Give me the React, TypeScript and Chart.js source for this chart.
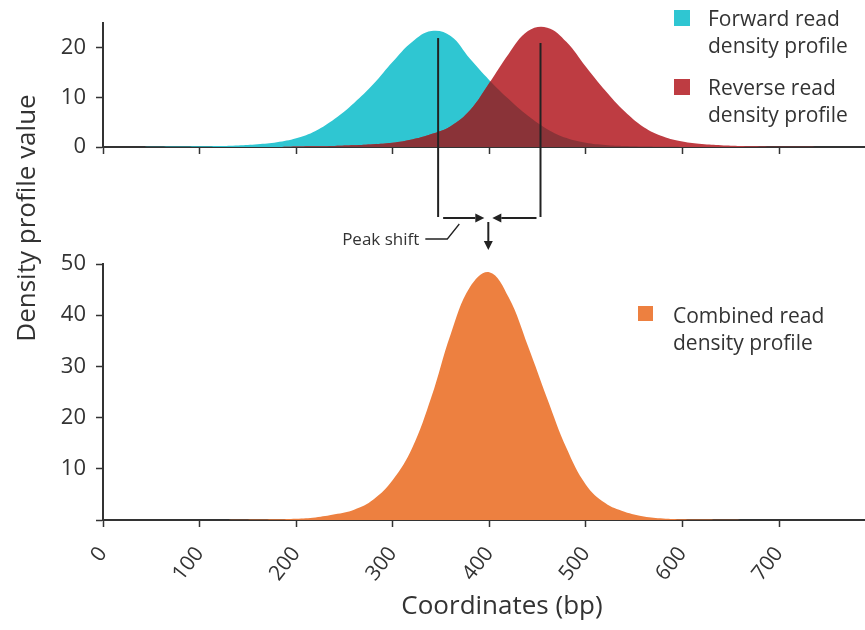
import React, { useEffect, useRef } from 'react';
import { Chart, registerables } from 'chart.js';

Chart.register(...registerables);

const W = 865;
const H = 630;

// ---- axes ----
const xTicks = [0, 100, 200, 300, 400, 500, 600, 700];
const xMax = 789;
const topYTicks = [0, 10, 20];
const topYMax = 25;
const bottomYTicks = [0, 10, 20, 30, 40, 50];
const bottomYMax = 50;

// ---- sampled coordinates (bp) ----
const coords = [0, 20, 40, 60, 80, 100, 120, 140, 160, 180, 200, 220, 240, 260, 280, 300, 320, 340, 360, 380, 400, 420, 440, 460, 480, 500, 520, 540, 560, 580, 600, 620, 640, 660, 680, 700, 720, 740, 760, 780];

// ---- density values read at each coordinate ----
const forwardY = [0, 0, 0.02, 0.05, 0.08, 0.13, 0.2, 0.32, 0.55, 0.95, 1.75, 3.25, 5.7, 8.9, 12.7, 17.2, 21.2, 23.4, 22.4, 17.8, 13.5, 9.7, 6.3, 3.6, 1.8, 0.85, 0.4, 0.2, 0.1, 0.05, 0.02, 0, 0, 0, 0, 0, 0, 0, 0, 0];
const reverseY = [0, 0, 0, 0, 0, 0, 0, 0, 0, 0, 0.1, 0.15, 0.22, 0.35, 0.55, 0.85, 1.5, 2.6, 4.2, 7.4, 12.9, 18.8, 23.4, 24.1, 21.2, 16.2, 11.4, 7.2, 4.0, 2.1, 1.1, 0.6, 0.35, 0.2, 0.12, 0.06, 0.03, 0, 0, 0];
const combinedY = [0, 0, 0, 0, 0, 0, 0, 0.05, 0.1, 0.15, 0.25, 0.5, 1.1, 2.0, 4.0, 7.8, 14.0, 24.0, 36.3, 45.5, 48.4, 43.5, 34.0, 23.7, 14.0, 6.9, 3.3, 1.6, 0.7, 0.3, 0.15, 0.08, 0.04, 0.02, 0, 0, 0, 0, 0, 0];

// peak markers (forward, reverse) and their top values
const peakX = [347, 453];
const peakTop = [22, 21];

const seriesNames = ['Forward read density profile', 'Reverse read density profile', 'Combined read density profile'];
const legendLines = [
  ['Forward read', 'density profile'],
  ['Reverse read', 'density profile'],
  ['Combined read', 'density profile'],
];
const yTitle = 'Density profile value';
const xTitle = 'Coordinates (bp)';
const peakLabel = 'Peak shift';

const COLORS = {
  forward: '#2FC6D2',
  reverse: '#BE3C42',
  overlap: '#8A3338',
  combined: '#ED8040',
  ink: '#333333',
  mark: '#222222',
};
const FONT = '"Open Sans", "DejaVu Sans", sans-serif';

const pts = (xs: number[], ys: number[]) => xs.map((x, i) => ({ x, y: ys[i] }));

const xScale = (showLabels: boolean, height: number) => ({
  type: 'linear' as const,
  min: 0,
  max: xMax,
  afterBuildTicks: (s: any) => {
    s.ticks = xTicks.map((v) => ({ value: v }));
  },
  afterFit: (s: any) => {
    s.height = height;
  },
  grid: { display: true, drawOnChartArea: false, drawTicks: true, tickLength: 7, tickWidth: 1.5, tickColor: COLORS.ink },
  border: { display: true, color: COLORS.ink, width: 2 },
  ticks: {
    display: showLabels,
    autoSkip: false,
    minRotation: 52,
    maxRotation: 52,
    padding: 15,
    color: COLORS.ink,
    font: { family: FONT, size: 21 },
  },
});

const yScale = (max: number, ticks: number[], hideZero: boolean) => ({
  type: 'linear' as const,
  min: 0,
  max,
  afterBuildTicks: (s: any) => {
    s.ticks = ticks.map((v) => ({ value: v }));
  },
  afterFit: (s: any) => {
    s.width = 103;
  },
  grid: { display: true, drawOnChartArea: false, drawTicks: true, tickLength: 7, tickWidth: 1.5, tickColor: COLORS.ink },
  border: { display: true, color: COLORS.ink, width: 2 },
  ticks: {
    padding: 10,
    color: COLORS.ink,
    font: { family: FONT, size: 22 },
    callback: (v: any) => (hideZero && v === 0 ? '' : String(v)),
  },
});

function drawLegend(ctx: CanvasRenderingContext2D, color: string, lines: string[], sx: number, sy: number, size: number, tx: number, base: number, fs: number) {
  ctx.save();
  ctx.fillStyle = color;
  ctx.fillRect(sx, sy, size, size);
  ctx.fillStyle = COLORS.ink;
  ctx.font = `${fs}px ${FONT}`;
  ctx.textAlign = 'left';
  ctx.textBaseline = 'alphabetic';
  lines.forEach((t, i) => ctx.fillText(t, tx, base + i * 27));
  ctx.restore();
}

function arrow(ctx: CanvasRenderingContext2D, x1: number, y1: number, x2: number, y2: number, head = 8) {
  const a = Math.atan2(y2 - y1, x2 - x1);
  const bx = x2 - head * Math.cos(a);
  const by = y2 - head * Math.sin(a);
  ctx.beginPath();
  ctx.moveTo(x1, y1);
  ctx.lineTo(bx, by);
  ctx.stroke();
  const w = head * 0.5;
  ctx.beginPath();
  ctx.moveTo(x2, y2);
  ctx.lineTo(bx + w * Math.sin(a), by - w * Math.cos(a));
  ctx.lineTo(bx - w * Math.sin(a), by + w * Math.cos(a));
  ctx.closePath();
  ctx.fill();
}

const overlapPlugin = {
  id: 'overlap',
  afterDatasetsDraw(chart: any) {
    const ctx: CanvasRenderingContext2D = chart.ctx;
    const area = chart.chartArea;
    const fwd = chart.getDatasetMeta(0).dataset;
    const rev = chart.getDatasetMeta(1).dataset;
    if (!fwd || !rev) return;
    fwd.updateControlPoints(area, 'x');
    rev.updateControlPoints(area, 'x');
    const y0 = chart.scales.y.getPixelForValue(0);
    const shape = (line: any) => {
      ctx.beginPath();
      line.path(ctx);
      const p = line.points;
      ctx.lineTo(p[p.length - 1].x, y0);
      ctx.lineTo(p[0].x, y0);
      ctx.closePath();
    };
    ctx.save();
    ctx.beginPath();
    ctx.rect(area.left, area.top, area.right - area.left, area.bottom - area.top);
    ctx.clip();
    shape(fwd);
    ctx.clip();
    shape(rev);
    ctx.fillStyle = COLORS.overlap;
    ctx.fill();
    ctx.restore();
  },
};

const topAnnotations = {
  id: 'topAnnotations',
  afterDraw(chart: any) {
    const ctx: CanvasRenderingContext2D = chart.ctx;
    const xs = chart.scales.x;
    const ys = chart.scales.y;
    const y0 = ys.getPixelForValue(0);
    const xF = xs.getPixelForValue(peakX[0]);
    const xR = xs.getPixelForValue(peakX[1]);
    const mid = xs.getPixelForValue((peakX[0] + peakX[1]) / 2);
    const yB = y0 + 71;

    ctx.save();
    ctx.strokeStyle = COLORS.mark;
    ctx.fillStyle = COLORS.mark;
    ctx.lineWidth = 2;
    [xF, xR].forEach((x, i) => {
      ctx.beginPath();
      ctx.moveTo(x, ys.getPixelForValue(peakTop[i]));
      ctx.lineTo(x, yB - 1);
      ctx.stroke();
    });
    arrow(ctx, xF + 5, yB, mid - 5, yB, 9);
    arrow(ctx, xR - 4, yB, mid + 3, yB, 9);
    arrow(ctx, mid - 1, yB + 4, mid - 1, yB + 32, 9);
    ctx.lineWidth = 1.3;
    ctx.beginPath();
    ctx.moveTo(mid - 64, yB + 21);
    ctx.lineTo(mid - 42, yB + 21);
    ctx.lineTo(mid - 30, yB + 6);
    ctx.stroke();
    ctx.fillStyle = COLORS.ink;
    ctx.font = `17px ${FONT}`;
    ctx.textAlign = 'right';
    ctx.textBaseline = 'middle';
    ctx.fillText(peakLabel, mid - 70, yB + 22);
    ctx.restore();

    drawLegend(ctx, COLORS.forward, legendLines[0], 674, 10, 16, 708, 26, 21);
    drawLegend(ctx, COLORS.reverse, legendLines[1], 674, 79, 16, 708, 95, 21);

    ctx.save();
    ctx.translate(28, 218);
    ctx.rotate(-Math.PI / 2);
    ctx.fillStyle = COLORS.ink;
    ctx.font = `26px ${FONT}`;
    ctx.textAlign = 'center';
    ctx.textBaseline = 'middle';
    ctx.fillText(yTitle, 0, 0);
    ctx.restore();
  },
};

const bottomAnnotations = {
  id: 'bottomAnnotations',
  afterDraw(chart: any) {
    const ctx: CanvasRenderingContext2D = chart.ctx;
    drawLegend(ctx, COLORS.combined, legendLines[2], 638, 306, 15, 673, 323, 21);
    ctx.save();
    ctx.fillStyle = COLORS.ink;
    ctx.font = `26px ${FONT}`;
    ctx.textAlign = 'center';
    ctx.textBaseline = 'middle';
    ctx.fillText(xTitle, 502, 607);
    ctx.restore();
  },
};

export default function App() {
  const topRef = useRef<HTMLCanvasElement>(null);
  const botRef = useRef<HTMLCanvasElement>(null);

  useEffect(() => {
    const common = {
      animation: false as const,
      responsive: false,
      maintainAspectRatio: false,
      events: [] as any[],
    };
    const ds = (label: string, data: any[], color: string, order: number) => ({
      label,
      data,
      backgroundColor: color,
      borderColor: color,
      borderWidth: 0,
      pointRadius: 0,
      fill: 'origin',
      tension: 0.4,
      order,
    });

    const top = new Chart(topRef.current!, {
      type: 'line',
      data: {
        datasets: [
          ds(seriesNames[0], pts(coords, forwardY), COLORS.forward, 2),
          ds(seriesNames[1], pts(coords, reverseY), COLORS.reverse, 1),
        ] as any,
      },
      options: {
        ...common,
        layout: { padding: { top: 20, left: 0, right: 0, bottom: 0 } },
        plugins: { legend: { display: false }, tooltip: { enabled: false }, title: { display: false } },
        scales: {
          x: xScale(false, H - 147) as any,
          y: yScale(topYMax, topYTicks, false) as any,
        },
      },
      plugins: [overlapPlugin, topAnnotations],
    });

    const bot = new Chart(botRef.current!, {
      type: 'line',
      data: {
        datasets: [ds(seriesNames[2], pts(coords, combinedY), COLORS.combined, 1)] as any,
      },
      options: {
        ...common,
        layout: { padding: { top: 264, left: 0, right: 0, bottom: 0 } },
        plugins: { legend: { display: false }, tooltip: { enabled: false }, title: { display: false } },
        scales: {
          x: xScale(true, H - 520) as any,
          y: yScale(bottomYMax, bottomYTicks, true) as any,
        },
      },
      plugins: [bottomAnnotations],
    });

    return () => {
      top.destroy();
      bot.destroy();
    };
  }, []);

  return (
    <div style={{ position: 'absolute', left: 0, top: 0, width: W, height: H, background: '#ffffff' }}>
      <canvas ref={topRef} width={W} height={H} style={{ position: 'absolute', left: 0, top: 0 }} />
      <canvas ref={botRef} width={W} height={H} style={{ position: 'absolute', left: 0, top: 0 }} />
    </div>
  );
}
